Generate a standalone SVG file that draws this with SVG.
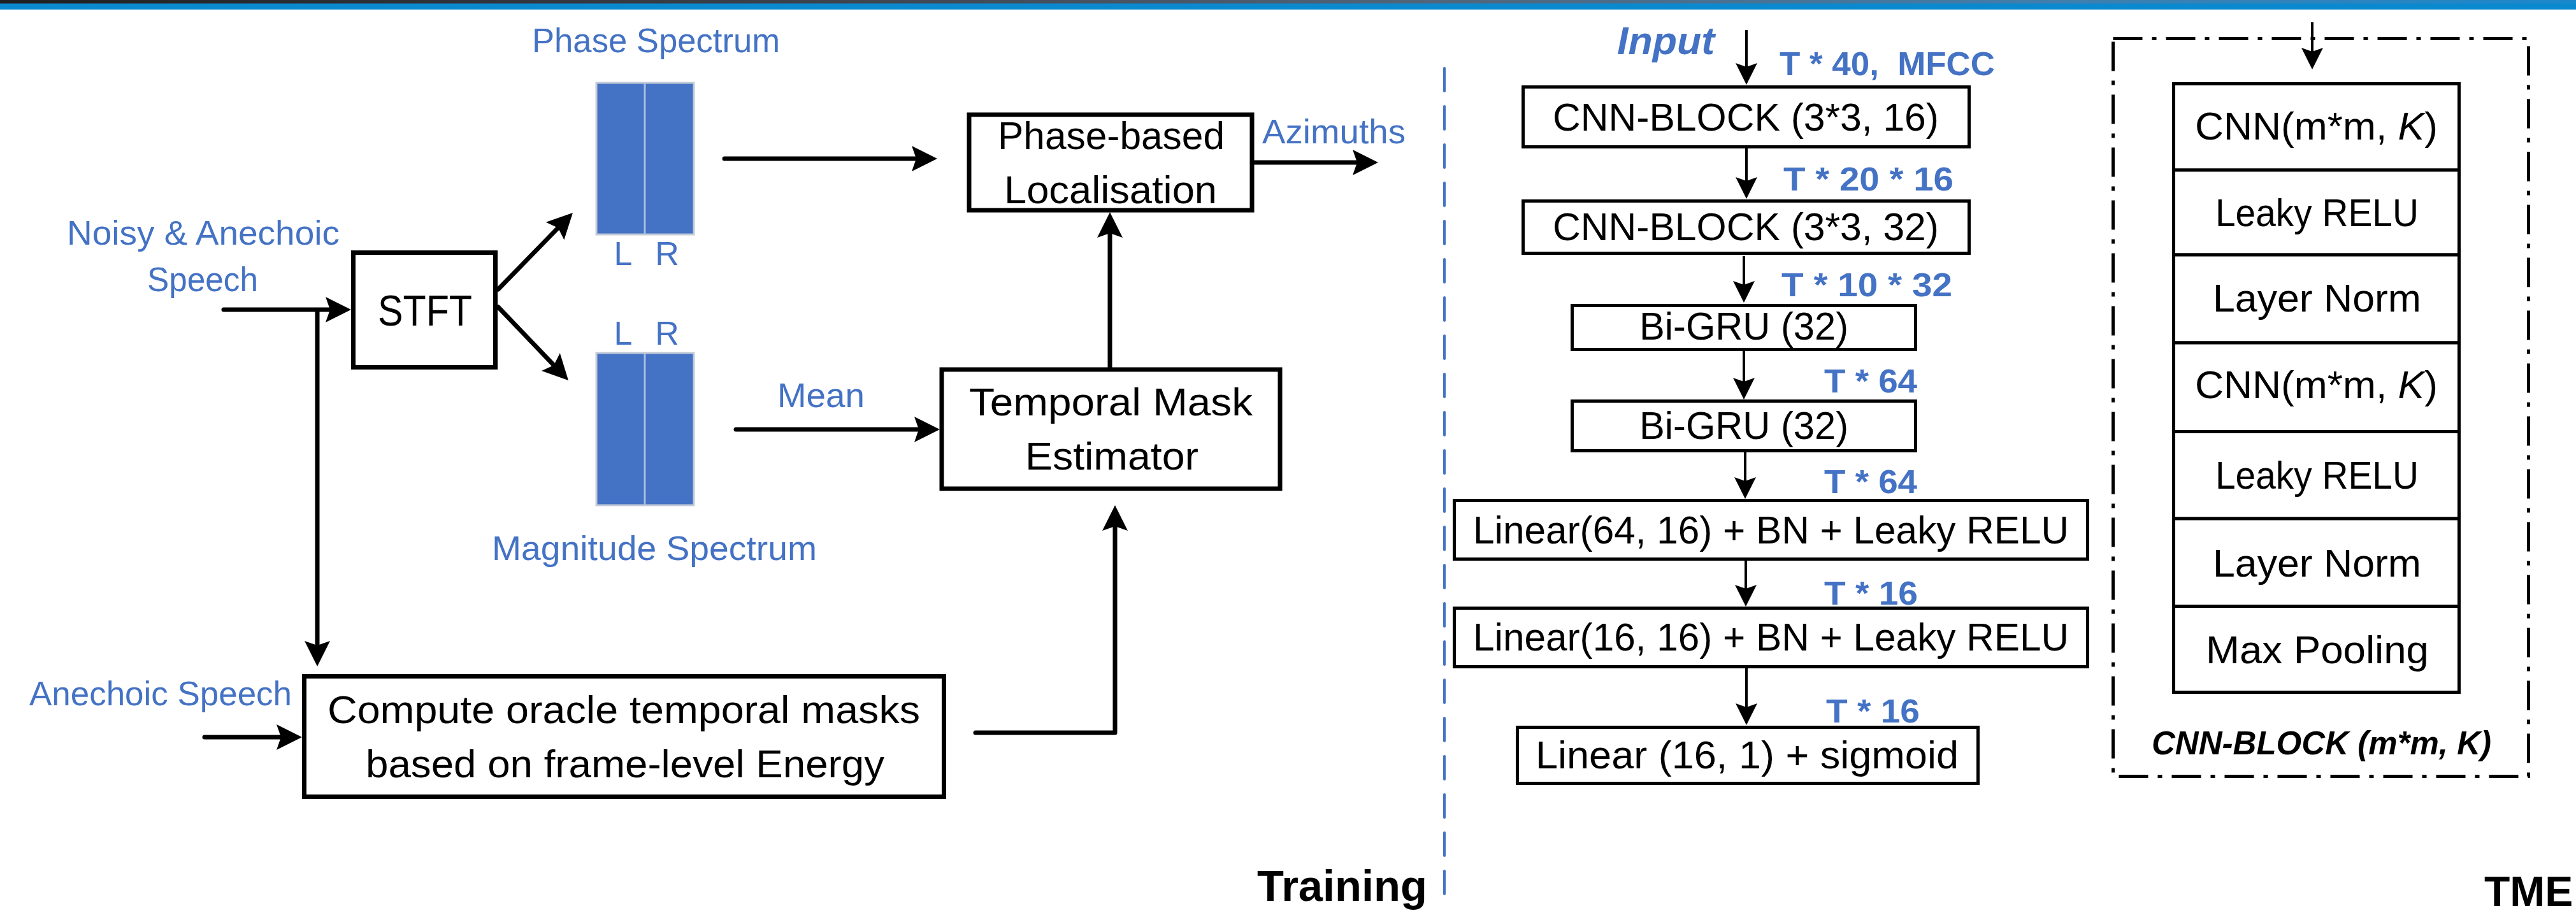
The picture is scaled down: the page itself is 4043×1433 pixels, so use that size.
<svg xmlns="http://www.w3.org/2000/svg" width="4043" height="1433" viewBox="0 0 4043 1433">
<defs>
<linearGradient id="barg" x1="0" y1="0" x2="1" y2="0">
<stop offset="0" stop-color="#1f2022"/>
<stop offset="0.3" stop-color="#3b414b"/>
<stop offset="0.55" stop-color="#50657a"/>
<stop offset="0.8" stop-color="#3f7fae"/>
<stop offset="1" stop-color="#1b88cc"/>
</linearGradient>
<marker id="ahL" markerUnits="userSpaceOnUse" markerWidth="42" markerHeight="42" refX="22" refY="20" orient="auto" overflow="visible">
<path d="M0,0 L40,20 L0,40 L7,20 Z" fill="#000"/>
</marker>
<marker id="ahS" markerUnits="userSpaceOnUse" markerWidth="36" markerHeight="36" refX="20" refY="17" orient="auto" overflow="visible">
<path d="M0,0 L34,17 L0,34 L6,17 Z" fill="#000"/>
</marker>
</defs>
<style>
.t{font-family:"Liberation Sans",Arial,sans-serif;fill:#000}
.b{font-family:"Liberation Sans",Arial,sans-serif;fill:#4472C4}
.bb{font-family:"Liberation Sans",Arial,sans-serif;fill:#4472C4;font-weight:bold}
.box{fill:#fff;stroke:#000;stroke-width:7}
.rbox{fill:#fff;stroke:#000;stroke-width:5}
.spec{fill:#4472C4;stroke:#C3CBD8;stroke-width:3}
.div{stroke:#A9BCE3;stroke-width:3}
.thick{fill:none;stroke:#000;stroke-width:7;stroke-linecap:round;stroke-linejoin:round;marker-end:url(#ahL)}
.thin{fill:none;stroke:#000;stroke-width:4;marker-end:url(#ahS)}
</style>
<rect x="0" y="0" width="4043" height="1433" fill="#fff"/>
<rect x="0" y="0" width="4043" height="6" fill="url(#barg)"/>
<rect x="0" y="5.5" width="4043" height="9.5" fill="#0B89CF"/>

<line id="separator" x1="2267" y1="107" x2="2267" y2="1419" stroke="#4472C4" stroke-width="4" stroke-linecap="round" stroke-dasharray="36 24"/>

<g id="connectors">
<line class="thick" x1="351" y1="486" x2="533" y2="486" stroke-width="8"/>
<line class="thick" x1="498" y1="488" x2="498" y2="1028" stroke-width="6"/>
<line class="thick" x1="782" y1="454" x2="886.4" y2="346.9"/>
<line class="thick" x1="782" y1="482" x2="879.6" y2="584"/>
<line class="thick" x1="1137" y1="249" x2="1453" y2="249"/>
<line class="thick" x1="1155" y1="674" x2="1457" y2="674"/>
<line class="thick" x1="1968" y1="255" x2="2145" y2="255"/>
<line class="thick" x1="1742" y1="577" x2="1742" y2="351" stroke-width="6"/>
<path class="thick" d="M1531,1150 H1750 V811"/>
<line class="thick" x1="321" y1="1157" x2="456" y2="1157"/>
<line class="thin" x1="2741" y1="47" x2="2741" y2="119"/>
<line class="thin" x1="2741" y1="233" x2="2741" y2="298"/>
<line class="thin" x1="2737" y1="402" x2="2737" y2="461"/>
<line class="thin" x1="2737" y1="551" x2="2737" y2="613"/>
<line class="thin" x1="2739" y1="710" x2="2739" y2="769"/>
<line class="thin" x1="2740" y1="880" x2="2740" y2="938"/>
<line class="thin" x1="2741" y1="1049" x2="2741" y2="1124"/>
<line class="thin" x1="3629" y1="35" x2="3629" y2="95"/>
</g>

<g id="label-noisy">
<text class="b" font-size="54" x="105" y="384" textLength="428" lengthAdjust="spacingAndGlyphs">Noisy &amp; Anechoic</text>
<text class="b" font-size="54" x="231" y="457" textLength="174" lengthAdjust="spacingAndGlyphs">Speech</text>
</g>
<g id="label-anechoic">
<text class="b" font-size="54" x="46" y="1107" textLength="412" lengthAdjust="spacingAndGlyphs">Anechoic Speech</text>
</g>

<g id="stft">
<rect class="box" x="554.5" y="396.5" width="223" height="180"/>
<text class="t" font-size="68" x="593" y="511" textLength="148" lengthAdjust="spacingAndGlyphs">STFT</text>
</g>

<g id="phase-spectrum">
<text class="b" font-size="54" x="835" y="82" textLength="389" lengthAdjust="spacingAndGlyphs">Phase Spectrum</text>
<rect class="spec" x="936" y="130" width="153" height="238"/>
<line class="div" x1="1012" y1="131" x2="1012" y2="367"/>
<text class="b" font-size="52" x="978" y="416" text-anchor="middle">L</text>
<text class="b" font-size="52" x="1047" y="416" text-anchor="middle">R</text>
</g>

<g id="magnitude-spectrum">
<text class="b" font-size="52" x="978" y="541" text-anchor="middle">L</text>
<text class="b" font-size="52" x="1047" y="541" text-anchor="middle">R</text>
<rect class="spec" x="936" y="554" width="153" height="239"/>
<line class="div" x1="1012" y1="555" x2="1012" y2="792"/>
<text class="b" font-size="54" x="772" y="879" textLength="510" lengthAdjust="spacingAndGlyphs">Magnitude Spectrum</text>
</g>

<g id="phase-localisation">
<rect class="box" x="1521" y="180" width="444" height="150" stroke-width="6"/>
<text class="t" font-size="62" x="1566" y="234" textLength="356" lengthAdjust="spacingAndGlyphs">Phase-based</text>
<text class="t" font-size="62" x="1576" y="319" textLength="334" lengthAdjust="spacingAndGlyphs">Localisation</text>
</g>
<g id="label-azimuths">
<text class="b" font-size="53" x="1981" y="225" textLength="225" lengthAdjust="spacingAndGlyphs">Azimuths</text>
</g>
<g id="label-mean">
<text class="b" font-size="53" x="1220" y="639" textLength="137" lengthAdjust="spacingAndGlyphs">Mean</text>
</g>

<g id="temporal-mask-estimator">
<rect class="box" x="1478" y="580" width="531" height="187" stroke-width="6"/>
<text class="t" font-size="62" x="1521" y="652" textLength="445" lengthAdjust="spacingAndGlyphs">Temporal Mask</text>
<text class="t" font-size="62" x="1609" y="737" textLength="272" lengthAdjust="spacingAndGlyphs">Estimator</text>
</g>

<g id="compute-masks">
<rect class="box" x="477.5" y="1061.5" width="1004" height="189"/>
<text class="t" font-size="62" x="514" y="1135" textLength="930" lengthAdjust="spacingAndGlyphs">Compute oracle temporal masks</text>
<text class="t" font-size="62" x="574" y="1220" textLength="814" lengthAdjust="spacingAndGlyphs">based on frame-level Energy</text>
</g>

<g id="label-training">
<text class="t" font-size="68" font-weight="bold" x="1973" y="1414" textLength="267" lengthAdjust="spacingAndGlyphs">Training</text>
</g>

<g id="label-input">
<text class="bb" font-size="61" font-style="italic" x="2538" y="85" textLength="153" lengthAdjust="spacingAndGlyphs">Input</text>
<text class="bb" font-size="52" x="2793" y="118" textLength="338" lengthAdjust="spacingAndGlyphs" xml:space="preserve">T * 40,  MFCC</text>
</g>

<g id="cnn-block-1">
<rect class="rbox" x="2390.5" y="136.5" width="700" height="94"/>
<text class="t" font-size="61" x="2437" y="205" textLength="606" lengthAdjust="spacingAndGlyphs">CNN-BLOCK (3*3, 16)</text>
</g>
<g id="dim-1"><text class="bb" font-size="52" x="2799" y="299" textLength="267" lengthAdjust="spacingAndGlyphs">T * 20 * 16</text></g>
<g id="cnn-block-2">
<rect class="rbox" x="2390.5" y="315.5" width="700" height="82"/>
<text class="t" font-size="61" x="2437" y="377" textLength="606" lengthAdjust="spacingAndGlyphs">CNN-BLOCK (3*3, 32)</text>
</g>
<g id="dim-2"><text class="bb" font-size="52" x="2796" y="465" textLength="268" lengthAdjust="spacingAndGlyphs">T * 10 * 32</text></g>
<g id="bigru-1">
<rect class="rbox" x="2467.5" y="479.5" width="539" height="69"/>
<text class="t" font-size="61" x="2573" y="533" textLength="328" lengthAdjust="spacingAndGlyphs">Bi-GRU (32)</text>
</g>
<g id="dim-3"><text class="bb" font-size="52" x="2863" y="616" textLength="146" lengthAdjust="spacingAndGlyphs">T * 64</text></g>
<g id="bigru-2">
<rect class="rbox" x="2467.5" y="629.5" width="539" height="78"/>
<text class="t" font-size="61" x="2573" y="689" textLength="328" lengthAdjust="spacingAndGlyphs">Bi-GRU (32)</text>
</g>
<g id="dim-4"><text class="bb" font-size="52" x="2863" y="774" textLength="146" lengthAdjust="spacingAndGlyphs">T * 64</text></g>
<g id="linear-1">
<rect class="rbox" x="2282.5" y="785.5" width="994" height="92"/>
<text class="t" font-size="61" x="2312" y="853" textLength="935" lengthAdjust="spacingAndGlyphs">Linear(64, 16) + BN + Leaky RELU</text>
</g>
<g id="dim-5"><text class="bb" font-size="52" x="2863" y="949" textLength="147" lengthAdjust="spacingAndGlyphs">T * 16</text></g>
<g id="linear-2">
<rect class="rbox" x="2282.5" y="954.5" width="994" height="92"/>
<text class="t" font-size="61" x="2312" y="1021" textLength="935" lengthAdjust="spacingAndGlyphs">Linear(16, 16) + BN + Leaky RELU</text>
</g>
<g id="dim-6"><text class="bb" font-size="52" x="2866" y="1134" textLength="147" lengthAdjust="spacingAndGlyphs">T * 16</text></g>
<g id="linear-sigmoid">
<rect class="rbox" x="2381.5" y="1141.5" width="723" height="88"/>
<text class="t" font-size="61" x="2410" y="1206" textLength="664" lengthAdjust="spacingAndGlyphs">Linear (16, 1) + sigmoid</text>
</g>

<g id="cnn-block-detail">
<rect x="3316.5" y="60.5" width="652" height="1158" fill="none" stroke="#000" stroke-width="5" stroke-dasharray="46 15 7 15"/>
<g id="row-cnn-1">
<rect class="rbox" x="3411.5" y="131.5" width="448" height="135.5"/>
<text class="t" font-size="61" x="3445" y="219" textLength="381" lengthAdjust="spacingAndGlyphs">CNN(m*m, <tspan font-style="italic">K</tspan>)</text>
</g>
<g id="row-relu-1">
<rect class="rbox" x="3411.5" y="267" width="448" height="133"/>
<text class="t" font-size="61" x="3477" y="355" textLength="319" lengthAdjust="spacingAndGlyphs">Leaky RELU</text>
</g>
<g id="row-norm-1">
<rect class="rbox" x="3411.5" y="400" width="448" height="138"/>
<text class="t" font-size="61" x="3473" y="489" textLength="327" lengthAdjust="spacingAndGlyphs">Layer Norm</text>
</g>
<g id="row-cnn-2">
<rect class="rbox" x="3411.5" y="538" width="448" height="139.5"/>
<text class="t" font-size="61" x="3445" y="625" textLength="381" lengthAdjust="spacingAndGlyphs">CNN(m*m, <tspan font-style="italic">K</tspan>)</text>
</g>
<g id="row-relu-2">
<rect class="rbox" x="3411.5" y="677.5" width="448" height="136.5"/>
<text class="t" font-size="61" x="3477" y="767" textLength="319" lengthAdjust="spacingAndGlyphs">Leaky RELU</text>
</g>
<g id="row-norm-2">
<rect class="rbox" x="3411.5" y="814" width="448" height="137.5"/>
<text class="t" font-size="61" x="3473" y="905" textLength="327" lengthAdjust="spacingAndGlyphs">Layer Norm</text>
</g>
<g id="row-pool">
<rect class="rbox" x="3411.5" y="951.5" width="448" height="135"/>
<text class="t" font-size="61" x="3462" y="1041" textLength="350" lengthAdjust="spacingAndGlyphs">Max Pooling</text>
</g>
<text class="t" font-size="52" font-weight="bold" font-style="italic" x="3377" y="1184" textLength="533" lengthAdjust="spacingAndGlyphs">CNN-BLOCK (m*m, K)</text>
</g>

<g id="label-tme">
<text class="t" font-size="66" font-weight="bold" x="3899" y="1422">TME</text>
</g>
</svg>
